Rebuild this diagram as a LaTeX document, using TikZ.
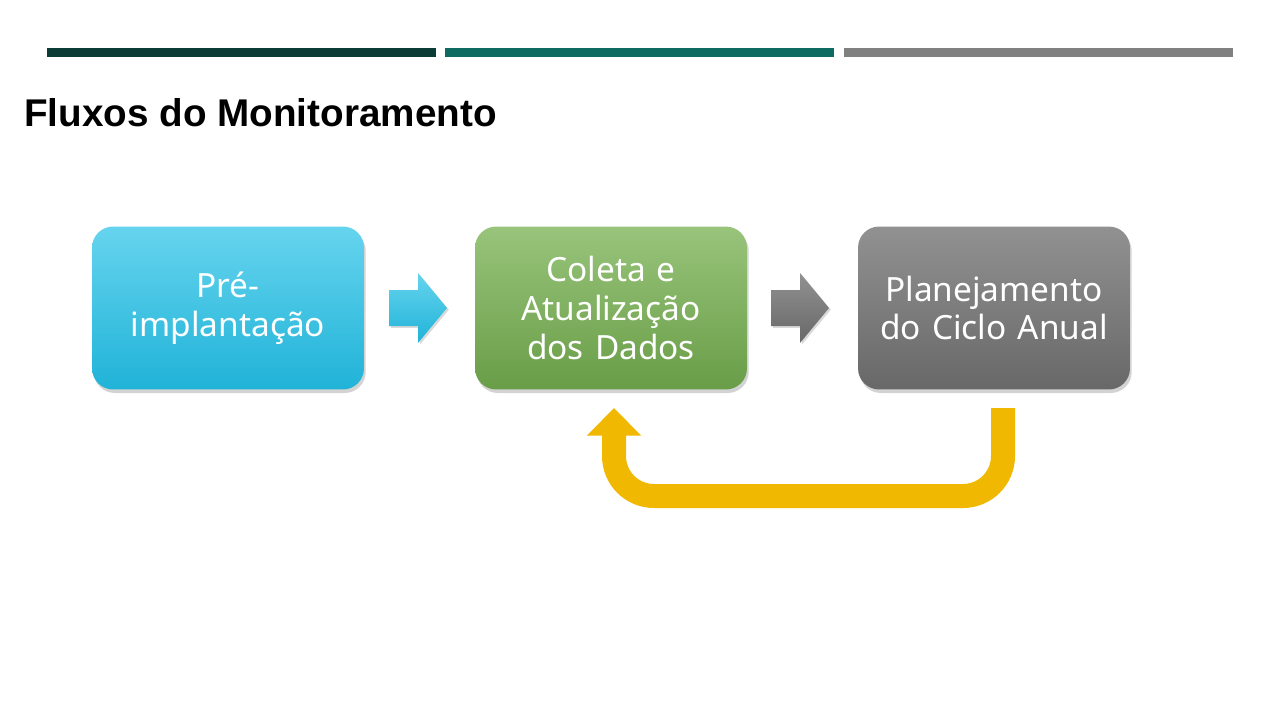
\documentclass[tikz,border=0pt]{standalone}
\usepackage{fontspec}
\setmainfont{Noto Sans}
\newfontfamily\titlefont{Liberation Sans}
\usepackage{tikz}
\usetikzlibrary{positioning}
\usetikzlibrary{shadows}
\usetikzlibrary{arrows.meta}
\definecolor{cbarone}{HTML}{0B3D36}
\definecolor{cbartwo}{HTML}{0E6B62}
\definecolor{cbarthree}{HTML}{808080}
\definecolor{ccyantop}{HTML}{66D4EE}
\definecolor{ccyanbot}{HTML}{20B3D8}
\definecolor{cgreentop}{HTML}{98C47B}
\definecolor{cgreenbot}{HTML}{699D47}
\definecolor{cgraytop}{HTML}{919191}
\definecolor{cgraybot}{HTML}{686868}
\definecolor{cyellow}{HTML}{F0B800}

\begin{document}
\begin{tikzpicture}[x=0.02cm, y=-0.02cm,
  stepbox/.style={rounded corners=12pt, minimum width=5.44cm, minimum height=3.26cm,
    text width=4.7cm, align=center, text=white, font=\fontsize{19}{22}\selectfont,
    drop shadow={shadow xshift=1pt, shadow yshift=-2pt, opacity=0.35}},
  chev/.style={drop shadow={shadow xshift=1pt, shadow yshift=-1pt, opacity=0.3}},
  bar/.style={fill=#1, draw=none}]
  % frame
  \useasboundingbox (0, 0) rectangle (1280, 720);

  % top bars
  \fill [bar=cbarone] (47, 48) rectangle (436, 57);
  \fill [bar=cbartwo] (445, 48) rectangle (834, 57);
  \fill [bar=cbarthree] (844, 48) rectangle (1233, 57);

  % title
  \node [anchor=west, font=\titlefont\fontsize{22}{26}\selectfont\bfseries] (title) at (18, 113) {Fluxos do Monitoramento};

  % steps
  \node [stepbox, top color=ccyantop, bottom color=ccyanbot] (pre) at (228, 308) {Pré-\\implantação};
  \node [stepbox, top color=cgreentop, bottom color=cgreenbot] (coleta) at (611, 308) {Coleta e Atualização dos Dados};
  \node [stepbox, top color=cgraytop, bottom color=cgraybot] (plano) at (994, 308) {Planejamento do Ciclo Anual};

  % chevrons
  \foreach \x/\ct/\cb in {389/ccyantop/ccyanbot, 771/cgraytop/cgraybot} {
    \path [chev, top color=\ct, bottom color=\cb]
      (\x, 290) -- ++(29, 0) -- ++(0, -17) -- ++(29, 35) -- ++(-29, 35)
      -- ++(0, -17) -- ++(-29, 0) -- cycle;
  }

  % feedback loop
  \coordinate (loopstart) at (1003, 408);
  \coordinate (loopend) at (614, 408);
  \draw [cyellow, line width=0.48cm, rounded corners=0.8cm,
    -{Triangle[length=0.55cm, width=1.05cm]}]
    (loopstart) -- (1003, 496) -- (614, 496) -- (loopend);
\end{tikzpicture}
\end{document}
